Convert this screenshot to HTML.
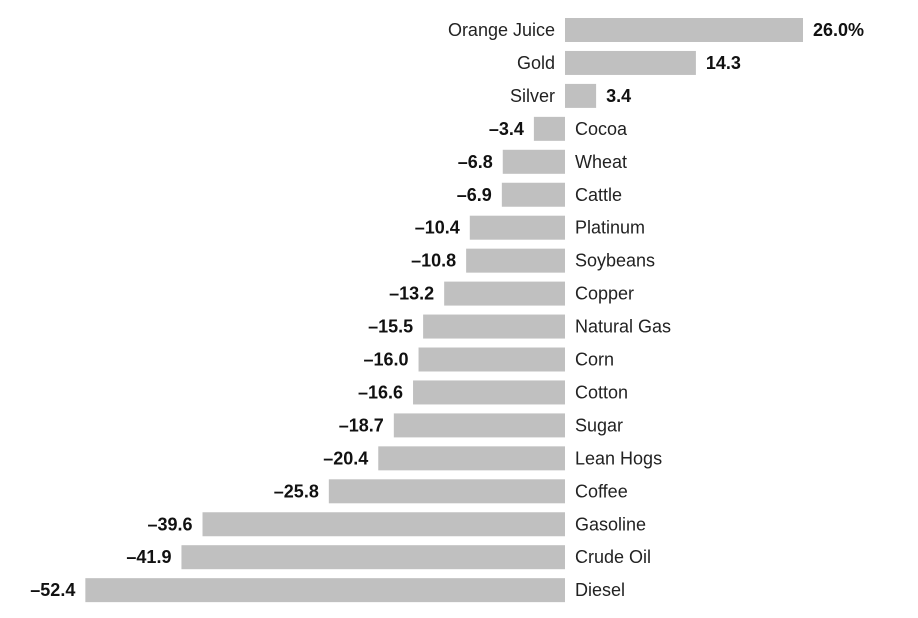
<!DOCTYPE html>
<html><head><meta charset="utf-8"><style>
body{margin:0;background:#fff;}
svg{display:block;font-family:"Liberation Sans",sans-serif;}
</style></head><body>
<svg id="chart" width="918" height="618"></svg>
<script>
const categories=["Orange Juice","Gold","Silver","Cocoa","Wheat","Cattle","Platinum","Soybeans","Copper","Natural Gas","Corn","Cotton","Sugar","Lean Hogs","Coffee","Gasoline","Crude Oil","Diesel"];
const values=[26.0,14.3,3.4,-3.4,-6.8,-6.9,-10.4,-10.8,-13.2,-15.5,-16.0,-16.6,-18.7,-20.4,-25.8,-39.6,-41.9,-52.4];
const valueLabels=["26.0%","14.3","3.4","-3.4","-6.8","-6.9","-10.4","-10.8","-13.2","-15.5","-16.0","-16.6","-18.7","-20.4","-25.8","-39.6","-41.9","-52.4"];
const svg=document.getElementById('chart');
const NS='http://www.w3.org/2000/svg';
const zeroX=565, scale=238/26;
const x=v=>zeroX+v*scale;
const y=i=>18+i*32.95;
const bh=24;
categories.forEach((c,i)=>{
  const v=values[i];
  const r=document.createElementNS(NS,'rect');
  
  
  r.setAttribute('x',Math.min(x(0),x(v)));
  r.setAttribute('y',y(i));
  r.setAttribute('width',Math.abs(x(v)-x(0)));
  r.setAttribute('height',bh);
  r.setAttribute('fill','#c0c0c0');
  svg.appendChild(r);
  const cy=y(i)+bh/2+6;
  const t=document.createElementNS(NS,'text');
  
  
  t.setAttribute('y',cy);
  t.setAttribute('font-size','18');
  t.setAttribute('fill','#222');
  t.textContent=c;
  const vl=document.createElementNS(NS,'text');
  
  
  vl.setAttribute('y',cy);
  vl.setAttribute('font-size','18');
  vl.setAttribute('font-weight','bold');
  vl.setAttribute('fill','#111');
  vl.textContent=valueLabels[i].replace('-','\u2013');
  if(v>=0){
    t.setAttribute('x',x(0)-10);t.setAttribute('text-anchor','end');
    vl.setAttribute('x',x(v)+10);
  }else{
    t.setAttribute('x',x(0)+10);
    vl.setAttribute('x',x(v)-10);vl.setAttribute('text-anchor','end');
  }
  svg.appendChild(t);svg.appendChild(vl);
});
</script>
</body></html>
